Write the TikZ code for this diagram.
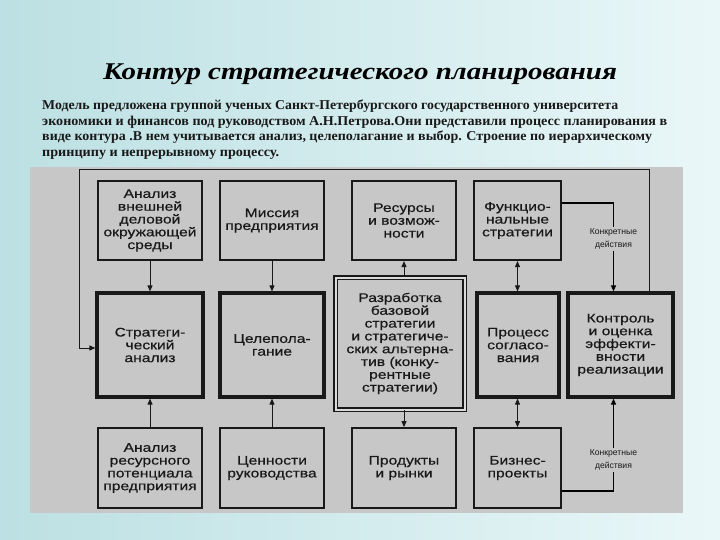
\documentclass[tikz,border=0pt]{standalone}
\usepackage{graphicx}
\usepackage{fontspec}
\setmainfont{Liberation Serif}
\newfontfamily\dg[FakeStretch=1.25,FakeBold=0.5]{Liberation Sans}
\newfontfamily\lblfont{Liberation Sans}
\usetikzlibrary{arrows.meta}
\definecolor{panel}{RGB}{199,199,199}
\definecolor{panelgap}{RGB}{218,218,218}
\definecolor{ink}{RGB}{25,25,25}
\definecolor{bgl}{RGB}{188,224,227}
\definecolor{bgr}{RGB}{234,247,248}
\begin{document}
\begin{tikzpicture}[x=1pt,y=-1pt,
  boxA/.style={draw=ink, line width=2.2pt, fill=panel, align=center, inner sep=0pt,
    font=\dg\fontsize{12.5}{12.8}\selectfont, text=ink},
  boxB/.style={boxA, line width=3.2pt},
  boxC/.style={boxA, line width=1.7pt},
  boxD/.style={boxA, line width=1.6pt, double=panelgap, double distance=2pt},
  conn/.style={draw=ink, line width=1pt},
  kconn/.style={draw=black, line width=1.4pt},
  arr/.style={conn, -{Triangle[length=6pt,width=5pt]}},
  karr/.style={kconn, -{Triangle[length=6pt,width=5pt]}},
  darr/.style={conn, {Triangle[length=6pt,width=5pt]}-{Triangle[length=6pt,width=5pt]}},
  lbl/.style={font=\lblfont\fontsize{8.6}{13.5}\selectfont, align=center, inner sep=1pt, text=ink},
  para/.style={anchor=base west, inner sep=0pt, text=ink, font=\bfseries\fontsize{13.5}{16}\selectfont}
]
\useasboundingbox (0,0) rectangle (720,540);
\shade[left color=bgl, right color=bgr] (0,0) rectangle (720,540);

% title and text
\node[anchor=base, inner sep=0pt, font=\bfseries\itshape\fontsize{24}{28}\selectfont] (title) at (360,80)
  {\resizebox{514pt}{\height}{Контур стратегического планирования}};
\node[para] (p1) at (42,110) {\resizebox{576pt}{\height}{Модель предложена группой ученых Санкт-Петербургского государственного университета}};
\node[para] (p2) at (42,126) {\resizebox{625pt}{\height}{экономики и финансов под руководством А.Н.Петрова.Они представили процесс планирования в}};
\node[para] (p3) at (42,141) {\resizebox{610pt}{\height}{виде контура .В нем учитывается анализ, целеполагание и выбор. Строение по иерархическому}};
\node[para] (p4) at (42,157) {\resizebox{237pt}{\height}{принципу и непрерывному процессу.}};

% panel
\fill[panel] (30,167) rectangle (683,513);

% row 1
\node[boxA, minimum width=104pt, minimum height=79pt] (a1) at (150,220.5) {Анализ\\внешней\\деловой\\окружающей\\среды};
\node[boxA, minimum width=104pt, minimum height=79pt] (a2) at (272,220.5) {Миссия\\предприятия};
\node[boxA, minimum width=104pt, minimum height=79pt] (a3) at (404,220.5) {Ресурсы\\и возмож-\\ности};
\node[boxA, minimum width=87pt, minimum height=79pt] (a4) at (517.5,220.5) {Функцио-\\нальные\\стратегии};

% row 2
\node[boxB, minimum width=106pt, minimum height=104pt] (b1) at (150,345) {Стратеги-\\ческий\\анализ};
\node[boxB, minimum width=104pt, minimum height=104pt] (b2) at (272,345) {Целепола-\\гание};
\node[boxD, minimum width=129pt, minimum height=132pt] (b3) at (400,343.5) {Разработка\\базовой\\стратегии\\и стратегиче-\\ских альтерна-\\тив (конку-\\рентные\\стратегии)};
\node[boxB, minimum width=82pt, minimum height=104pt] (b4) at (518,345) {Процесс\\согласо-\\вания};
\node[boxB, minimum width=105pt, minimum height=104pt] (b5) at (620.5,345) {Контроль\\и оценка\\эффекти-\\вности\\реализации};

% row 3
\node[boxC, minimum width=104pt, minimum height=80pt] (c1) at (150,468) {Анализ\\ресурсного\\потенциала\\предприятия};
\node[boxC, minimum width=104pt, minimum height=80pt] (c2) at (272,468) {Ценности\\руководства};
\node[boxC, minimum width=104pt, minimum height=80pt] (c3) at (404,468) {Продукты\\и рынки};
\node[boxC, minimum width=87pt, minimum height=80pt] (c4) at (517.5,468) {Бизнес-\\проекты};

% labels
\node[lbl] (ka) at (613.5,239) {Конкретные\\действия};
\node[lbl] (kb) at (613.5,460) {Конкретные\\действия};
\coordinate (kat) at (613.5,203);
\coordinate (kbb) at (613.5,491);

% connectors between rows 1 and 2
\draw[arr] (a1.south) -- (b1.north);
\draw[arr] (a2.south) -- (b2.north);
\draw[arr] (a3.south |- b3.north) -- (a3.south);
\draw[darr] (a4.south) -- (a4.south |- b4.north);
\draw[kconn] (a4.east |- kat) -- (kat) -- (ka.north);
\draw[karr] (ka.south) -- (ka.south |- b5.north);

% outer loop
\coordinate (fr) at (649,170);
\coordinate (fl) at (79,170);
\coordinate (fb) at (79,348);
\draw[arr] (fr |- b5.north) -- (fr) -- (fl) -- (fb) -- (b1.west |- fb);

% connectors between rows 2 and 3
\draw[arr] (c1.north) -- (b1.south);
\draw[arr] (c2.north) -- (b2.south);
\draw[arr] (c3.north |- b3.south) -- (c3.north);
\draw[darr] (c4.north) -- (c4.north |- b4.south);
\draw[kconn] (c4.east |- kbb) -- (kbb) -- (kb.south);
\draw[karr] (kb.north) -- (kb.north |- b5.south);
\end{tikzpicture}
\end{document}
